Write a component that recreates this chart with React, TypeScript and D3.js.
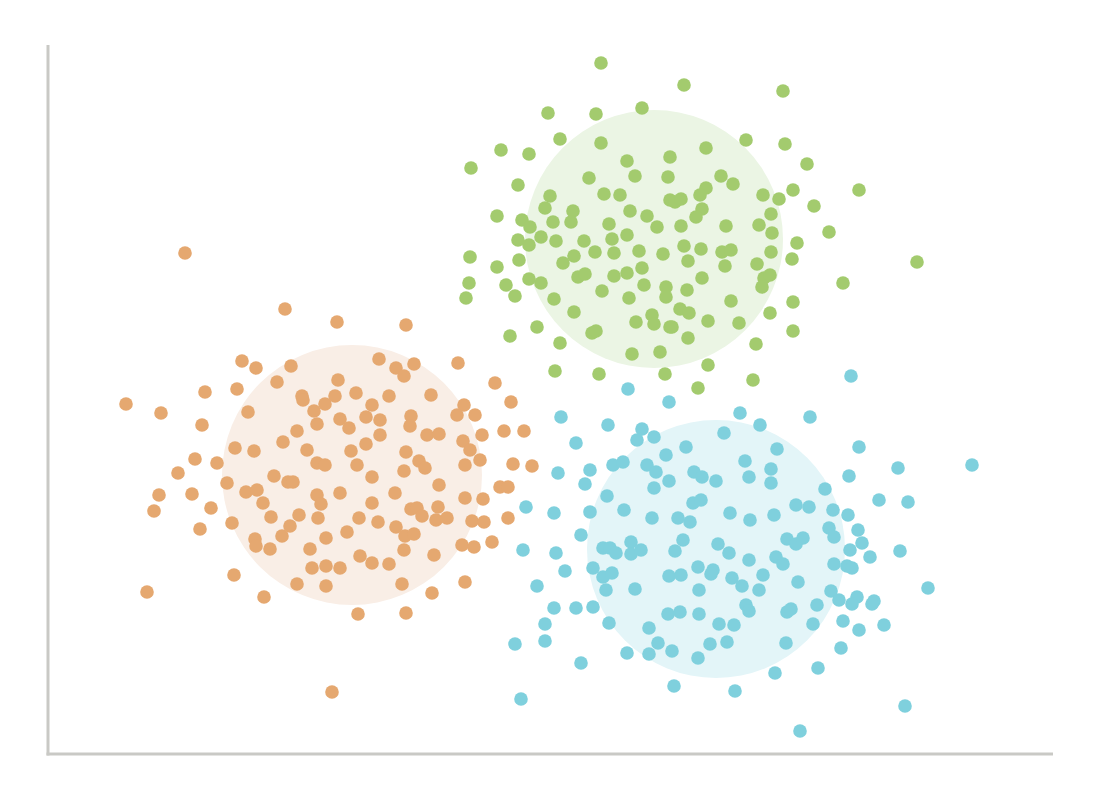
import React from "react";
import * as d3 from "d3";

// Cluster point values [x, y] (axis units)
const orangePoints: [number, number][] = [
  [137,501],[237,445],[289,432],[358,429],[194,393],[208,386],[243,388],[229,372],[189,365],[157,362],
  [78,350],[113,341],[200,342],[254,358],[255,354],[277,350],[266,343],[269,330],[154,329],[249,323],
  [187,306],[206,303],[235,312],[259,304],[269,291],[277,289],[147,295],[169,291],[130,281],[226,278],
  [240,272],[245,272],[179,271],[111,259],[144,260],[198,262],[209,264],[215,251],[269,259],[273,250],
  [163,246],[106,243],[223,237],[251,239],[270,236],[184,231],[152,225],[242,228],[234,218],[207,215],
  [208,208],[222,205],[262,205],[278,216],[264,186],[278,188],[186,179],[249,170],[278,168],[99,162],
  [216,157],[310,140],[358,141],[284,62],[331,395],[348,386],[356,378],[366,390],[410,391],[290,374],
  [308,361],[287,358],[341,358],[383,359],[447,371],[463,352],[324,349],[292,335],[318,337],[332,334],
  [301,326],[363,338],[362,328],[416,349],[409,339],[427,339],[332,319],[318,310],[379,319],[391,320],
  [434,319],[456,323],[476,323],[415,313],[422,304],[303,303],[358,302],[371,293],[432,294],[309,289],
  [356,283],[377,286],[417,289],[465,290],[484,288],[324,277],[391,269],[452,267],[460,267],[292,261],
  [347,261],[324,251],[417,256],[435,255],[363,245],[369,246],[374,238],[390,247],[388,234],[399,236],
  [311,236],[330,232],[424,233],[436,232],[460,236],[348,227],[299,222],[357,218],[366,220],[414,209],
  [426,207],[444,212],[356,204],[386,199],[312,198],[324,191],[341,190],[292,186],[354,170],[417,172],
  [384,161],
];

const greenPoints: [number, number][] = [
  [553,691],[500,641],[548,640],[594,646],[512,615],[453,604],[481,600],[553,611],[423,586],[579,593],
  [622,597],[587,578],[620,577],[541,576],[470,569],[502,558],[556,560],[572,559],[622,554],[497,546],
  [525,543],[523,532],[582,543],[599,538],[449,538],[474,534],[482,527],[505,532],[561,530],[609,527],
  [579,519],[470,514],[481,509],[493,517],[508,513],[536,513],[564,515],[547,502],[566,501],[591,503],
  [615,500],[422,497],[471,494],[526,498],[515,491],[449,487],[594,486],[579,481],[566,478],[530,477],
  [537,480],[421,471],[481,475],[493,471],[458,469],[596,469],[618,467],[554,463],[418,456],[467,458],
  [506,455],[581,456],[618,457],[526,442],[604,439],[606,430],[588,432],[489,427],[622,427],[544,421],
  [548,423],[462,418],[512,411],[584,400],[612,402],[507,383],[551,380],[617,380],
  [636,669],[735,663],[698,614],[737,610],[658,606],[759,590],[673,578],[685,570],[745,564],[811,564],
  [715,559],[731,555],[658,566],[652,559],[627,552],[633,555],[654,545],[648,537],[766,548],[723,540],
  [633,528],[678,528],[711,529],[781,522],[724,521],[749,511],[636,508],[653,505],[674,502],[683,504],
  [723,502],[640,493],[744,495],[677,488],[709,490],[869,492],[654,476],[716,476],[722,479],[714,467],
  [795,471],[639,464],[683,453],[745,452],[632,445],[641,441],[722,441],[660,433],[691,431],[624,427],
  [745,423],[640,416],[708,410],[660,389],[705,374],[650,366],
];

const cyanPoints: [number, number][] = [
  [580,365],[621,352],[513,337],[560,329],[594,325],[606,317],[589,314],[528,311],[638,307],[618,299],
  [565,289],[575,292],[599,289],[608,282],[542,284],[510,281],[646,282],[654,277],[621,273],[668,273],
  [537,270],[606,266],[559,258],[645,251],[653,254],[478,247],[506,241],[542,242],[576,244],[604,236],
  [630,236],[642,232],[533,219],[635,214],[583,212],[670,210],[475,204],[508,201],[555,206],[562,206],
  [568,201],[583,200],[593,204],[627,203],[517,183],[545,186],[555,177],[564,181],[621,178],[633,179],
  [650,187],[665,184],[663,180],[489,168],[558,164],[587,165],[651,164],[506,146],[528,146],[545,147],
  [620,140],[632,142],[651,140],[671,130],[497,130],[561,131],[601,126],[467,110],[497,113],[610,111],
  [624,103],[662,110],[579,101],[601,100],[650,96],[533,91],[626,68],[473,55],
  [803,378],[692,341],[762,337],[712,329],[676,321],[811,307],[729,305],[850,286],[924,289],[697,293],
  [723,285],[701,277],[723,271],[801,278],[777,265],[831,254],[860,252],[748,249],[761,247],[785,244],
  [800,239],[682,241],[702,234],[726,239],[781,226],[786,217],[810,224],[739,215],[748,210],[755,216],
  [814,211],[681,201],[802,204],[852,203],[822,197],[701,194],[728,197],[735,190],[786,190],[799,188],
  [804,186],[684,176],[715,179],[694,168],[711,164],[750,172],[880,166],[783,163],[791,154],[809,157],
  [804,150],[826,153],[824,150],[698,149],[701,143],[739,142],[743,145],[769,149],[686,129],[795,133],
  [765,130],[811,124],[836,129],[679,112],[738,111],[793,106],[727,81],[770,86],[687,63],[857,48],
  [752,23],
];

// Cluster regions: center x, center y, radius (axis units)
const clusterNames = ["orange", "green", "cyan"];
const clusterCenters: [number, number][] = [[304, 279], [606, 515], [668, 205]];
const clusterRadii = [130, 129, 129];
const pointColors = ["#E5A870", "#A3CB6E", "#7FD0DD"];
const regionColors = ["#F9EEE6", "#EBF5E4", "#E3F5F8"];

const W = 1111;
const H = 788;

export default function App() {
  const x = d3.scaleLinear().domain([0, 1005]).range([48, 1053]);
  const y = d3.scaleLinear().domain([0, 709]).range([754, 45]);
  const series = [orangePoints, greenPoints, cyanPoints];
  const rScale = (v: number) => x(v) - x(0);

  return (
    <svg
      width={W}
      height={H}
      style={{ position: "absolute", left: 0, top: 0, background: "#fff" }}
    >
      {clusterNames.map((name, i) => (
        <circle
          key={"region-" + name}
          cx={x(clusterCenters[i][0])}
          cy={y(clusterCenters[i][1])}
          r={rScale(clusterRadii[i])}
          fill={regionColors[i]}
        />
      ))}
      {series.map((pts, i) => (
        <g key={"pts-" + clusterNames[i]} fill={pointColors[i]}>
          {pts.map((p, j) => (
            <circle key={j} cx={x(p[0])} cy={y(p[1])} r={6.8} />
          ))}
        </g>
      ))}
      <line x1={x(0)} x2={x(0)} y1={y(709)} y2={y(0) + 1.5} stroke="#C9C9C5" strokeWidth={3} />
      <line x1={x(0) - 1.5} x2={x(1005)} y1={y(0)} y2={y(0)} stroke="#C9C9C5" strokeWidth={3} />
    </svg>
  );
}
